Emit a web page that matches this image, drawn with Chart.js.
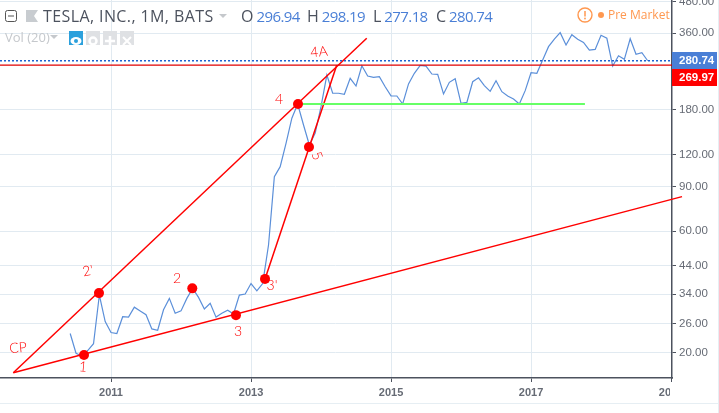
<!DOCTYPE html>
<html>
<head>
<meta charset="utf-8">
<script src="https://cdn.jsdelivr.net/npm/chart.js@4"></script>
<style>
html, body { margin: 0; padding: 0; background: #fff; overflow: hidden; }
#wrap { position: relative; width: 719px; height: 413px; font-family: 'Open Sans', sans-serif; }
#chart { position: absolute; left: 0; top: 0; }
.abs { position: absolute; white-space: nowrap; }
.title { top: 5px; font-size: 16px; line-height: 22px; color: #4c525e; }
.val { color: #4a7fd6; font-size: 15px; letter-spacing: -0.6px; margin-left: 3px; }
.caret { width: 0; height: 0; border-left: 4px solid transparent; border-right: 4px solid transparent; border-top: 4px solid #c5c8cc; }
.btn { top: 31px; width: 14px; height: 14px; background: #dfe1e4; }
.edge { background: #e6eef3; }
</style>
</head>
<body>
<div id="wrap">
  <canvas id="chart" width="719" height="413"></canvas>

  <!-- legend header -->
  <svg class="abs" style="left:5px;top:10px" width="34" height="13">
    <rect x="0.5" y="0.5" width="11" height="11" rx="2" fill="#fff" stroke="#555"/>
    <line x1="3" y1="6" x2="9" y2="6" stroke="#555"/>
    <path d="M21 0H33L29 6L33 12H21Z" fill="#c8ccd0"/>
  </svg>
  <div class="abs title" style="left:43px;letter-spacing:0.4px">TESLA, INC., 1M, BATS</div>
  <div class="abs caret" style="left:219px;top:14px"></div>
  <div class="abs title" style="left:241px">O<span class="val">296.94</span></div>
  <div class="abs title" style="left:307px">H<span class="val">298.19</span></div>
  <div class="abs title" style="left:373px">L<span class="val">277.18</span></div>
  <div class="abs title" style="left:436px">C<span class="val">280.74</span></div>

  <div class="abs" style="left:5px;top:28px;font-size:13px;line-height:18px;color:#c5c8cc">Vol (20)</div>
  <div class="abs caret" style="left:50px;top:35px"></div>
  <div class="abs btn" style="left:69px;background:#2ba0dc">
    <svg width="14" height="14"><ellipse cx="7" cy="7" rx="5.5" ry="4" fill="#fff"/><circle cx="7" cy="7" r="2" fill="#2ba0dc"/></svg>
  </div>
  <div class="abs btn" style="left:86px">
    <svg width="14" height="14"><circle cx="7" cy="7" r="3.5" fill="none" stroke="#fff" stroke-width="2.5"/></svg>
  </div>
  <div class="abs btn" style="left:103px">
    <svg width="14" height="14"><path d="M7 2V12M2 7H12" stroke="#fff" stroke-width="2.5"/></svg>
  </div>
  <div class="abs btn" style="left:120px">
    <svg width="14" height="14"><path d="M3 3L11 11M11 3L3 11" stroke="#fff" stroke-width="2"/></svg>
  </div>

  <!-- pre market badge -->
  <svg class="abs" style="left:577px;top:7px" width="30" height="16">
    <circle cx="8" cy="8" r="7" fill="none" stroke="#ff9850" stroke-width="1.4"/>
    <line x1="8" y1="4" x2="8" y2="9.5" stroke="#ff9850" stroke-width="1.5"/>
    <circle cx="8" cy="11.5" r="0.9" fill="#ff9850"/>
    <circle cx="24" cy="8" r="3" fill="#ff9850"/>
  </svg>
  <div class="abs" style="left:608px;top:6px;font-size:12px;line-height:18px;color:#ff9850">Pre Market</div>

  <!-- pane edges -->
  <div class="abs edge" style="left:0;top:403px;width:718px;height:1px"></div>
  <div class="abs edge" style="left:718px;top:0;width:1px;height:413px"></div>
</div>

<script>
// ===== DATA =====
const months = [
    '2010-06', '2010-07', '2010-08', '2010-09', '2010-10', '2010-11', '2010-12',
    '2011-01', '2011-02', '2011-03', '2011-04', '2011-05', '2011-06', '2011-07', '2011-08', '2011-09', '2011-10', '2011-11', '2011-12',
    '2012-01', '2012-02', '2012-03', '2012-04', '2012-05', '2012-06', '2012-07', '2012-08', '2012-09', '2012-10', '2012-11', '2012-12',
    '2013-01', '2013-02', '2013-03', '2013-04', '2013-05', '2013-06', '2013-07', '2013-08', '2013-09', '2013-10', '2013-11', '2013-12',
    '2014-01', '2014-02', '2014-03', '2014-04', '2014-05', '2014-06', '2014-07', '2014-08', '2014-09', '2014-10', '2014-11', '2014-12',
    '2015-01', '2015-02', '2015-03', '2015-04', '2015-05', '2015-06', '2015-07', '2015-08', '2015-09', '2015-10', '2015-11', '2015-12',
    '2016-01', '2016-02', '2016-03', '2016-04', '2016-05', '2016-06', '2016-07', '2016-08', '2016-09', '2016-10', '2016-11', '2016-12',
    '2017-01', '2017-02', '2017-03', '2017-04', '2017-05', '2017-06', '2017-07', '2017-08', '2017-09', '2017-10', '2017-11', '2017-12',
    '2018-01', '2018-02', '2018-03', '2018-04', '2018-05', '2018-06', '2018-07', '2018-08', '2018-09'
];
const closes = [
    23.8, 19.9, 19.4, 20.4, 21.7, 33.7, 26.5,
    24.0, 23.8, 27.7, 27.6, 30.2, 29.2, 28.2, 24.8, 24.5, 29.5, 32.7, 28.6,
    29.2, 32.7, 35.8, 33.0, 29.7, 31.3, 27.6, 28.6, 29.4, 28.4, 33.7, 34.0,
    37.4, 35.0, 37.4, 53.0, 98.4, 107.7, 133, 167, 189.8, 157, 131, 146,
    185.3, 246.7, 209.2, 209.2, 207.3, 239.5, 223.4, 268.2, 244.5, 241.6, 243, 222,
    204.2, 204.1, 189.8, 227.6, 250.6, 269.2, 267.5, 249, 248.2, 207.9, 231, 238.5,
    190.9, 192.6, 232.2, 240.6, 224.2, 212.9, 234.3, 212.2, 204.2, 198.6, 189.8, 214.2,
    251.9, 250.6, 282.5, 318.9, 341.8, 362, 323.8, 355.5, 341, 331.6, 309.3, 311.2,
    353.6, 344.1, 267.5, 293.7, 284.3, 342.7, 297.6, 301.9, 280.74
];
const priceTicks = [20, 26, 34, 44, 60, 90, 120, 180, 360, 480];
const yearTicks = [2011, 2013, 2015, 2017, 2019];

const lastPrice = 280.74;
const linePrice = 269.97;

// hand drawn pivots, [year, price]
const pivots = [
    [2010.614, 19.6], [2010.828, 34.3], [2012.161, 35.8], [2012.785, 28.1],
    [2013.2, 39.0], [2013.671, 189.9], [2013.828, 128.7]
];
// hand drawn lines, [year, price] pairs
const upperTrend = [[2009.604, 16.69], [2014.653, 344.1]];
const lowerTrend = [[2009.604, 16.69], [2019.157, 82.1]];
const steepTrend = [[2013.2, 39.0], [2014.224, 269.5]];
const supportLine = [[2013.671, 189.9], [2017.77, 189.9]];

const yearMin = 2009.414;
const yearMax = 2019.014;
const priceMin = 15.91;
const priceMax = 486.5;

const gridColor = '#e1eaf1';
const axisColor = '#4c525e';
const labelColor = '#666b75';
const lineBlue = '#5b8fd9';
const red = '#ff0000';

const toPoints = (pairs) => pairs.map(([x, y]) => ({ x, y }));

function monthToYear(month) {
    const [y, m] = month.split('-').map(Number);
    return y + (m - 1) / 12;
}

function trendDataset(pairs, color, extra) {
    return Object.assign({
        data: toPoints(pairs),
        borderColor: color,
        borderWidth: 1.5,
        pointRadius: 0,
        tension: 0,
        order: 2
    }, extra);
}

// handwritten notes, price tags and the cut off last year label
const overlayPlugin = {
    id: 'overlay',
    afterDraw(chart) {
        const ctx = chart.ctx;
        const yScale = chart.scales.y;
        const right = chart.chartArea.right;

        ctx.save();
        ctx.fillStyle = '#fff';
        ctx.fillRect(670, 384, 48, 18);

        const lastY = yScale.getPixelForValue(lastPrice);
        const tags = [
            { text: lastPrice.toFixed(2), color: '#4a7fd6', top: Math.round(lastY) - 9 },
            { text: linePrice.toFixed(2), color: red, top: Math.round(lastY) + 8 }
        ];
        ctx.font = "bold 11.5px 'Liberation Sans', sans-serif";
        ctx.textBaseline = 'middle';
        ctx.textAlign = 'left';
        tags.forEach((tag) => {
            ctx.fillStyle = tag.color;
            ctx.fillRect(right, tag.top, 45, 17);
            ctx.fillStyle = '#fff';
            ctx.fillText(tag.text, right + 7, tag.top + 9);
        });

        const notes = [
            { text: 'CP', x: 18, y: 348, rot: -0.1 },
            { text: '1', x: 83, y: 367, rot: 0.1 },
            { text: "2'", x: 88, y: 271, rot: -0.2 },
            { text: '2', x: 177, y: 278, rot: 0 },
            { text: '3', x: 238, y: 331, rot: 0 },
            { text: "3'", x: 272, y: 285, rot: 0 },
            { text: '4', x: 279, y: 99, rot: 0 },
            { text: '5', x: 317, y: 156, rot: 1.2 },
            { text: '4A', x: 319, y: 52, rot: -0.1 }
        ];
        ctx.font = "300 14px 'Lato', sans-serif";
        ctx.fillStyle = red;
        ctx.textAlign = 'center';
        notes.forEach((note) => {
            ctx.save();
            ctx.translate(note.x, note.y);
            ctx.rotate(note.rot);
            ctx.fillText(note.text, 0, 0);
            ctx.restore();
        });
        ctx.restore();
    }
};

new Chart(document.getElementById('chart'), {
    type: 'line',
    data: {
        datasets: [
            {
                data: months.map((month, i) => ({ x: monthToYear(month), y: closes[i] })),
                borderColor: lineBlue,
                borderWidth: 1.2,
                pointRadius: 0,
                tension: 0,
                order: 3
            },
            trendDataset(supportLine, '#66ff66', { borderWidth: 2 }),
            trendDataset([[yearMin, lastPrice], [yearMax, lastPrice]], '#1f63d0', { borderWidth: 1.3, borderDash: [2, 2] }),
            trendDataset([[yearMin, linePrice], [yearMax, linePrice]], '#e00000', { borderWidth: 1.2 }),
            trendDataset(upperTrend, red),
            trendDataset(lowerTrend, red, { clip: false }),
            trendDataset(steepTrend, red),
            {
                data: toPoints(pivots),
                showLine: false,
                pointRadius: 5,
                pointBackgroundColor: red,
                pointBorderColor: red,
                pointBorderWidth: 0,
                order: 1
            }
        ]
    },
    options: {
        responsive: false,
        animation: false,
        parsing: { xAxisKey: 'x', yAxisKey: 'y' },
        layout: { padding: 0, autoPadding: false },
        plugins: { legend: { display: false }, tooltip: { enabled: false } },
        scales: {
            x: {
                type: 'linear',
                min: yearMin,
                max: yearMax,
                afterBuildTicks: (scale) => { scale.ticks = yearTicks.map((value) => ({ value })); },
                afterFit: (scale) => { scale.height = 35; scale.paddingLeft = 0; scale.paddingRight = 0; },
                border: { color: axisColor, width: 1.5 },
                grid: { color: gridColor, tickColor: axisColor, tickLength: 4 },
                ticks: {
                    autoSkip: false,
                    maxRotation: 0,
                    padding: 4,
                    color: labelColor,
                    font: { family: "'Liberation Sans', sans-serif", size: 11, weight: 'bold' },
                    callback: (value) => String(value)
                }
            },
            y: {
                type: 'logarithmic',
                position: 'right',
                min: priceMin,
                max: priceMax,
                afterBuildTicks: (scale) => { scale.ticks = priceTicks.map((value) => ({ value })); },
                afterFit: (scale) => { scale.width = 47; scale.paddingTop = 0; scale.paddingBottom = 0; },
                border: { color: axisColor, width: 1.5 },
                grid: { color: gridColor, tickColor: axisColor, tickLength: 4 },
                ticks: {
                    autoSkip: false,
                    padding: 3,
                    color: labelColor,
                    font: { family: "'Liberation Sans', sans-serif", size: 11.5 },
                    callback: (value) => Number(value).toFixed(2)
                }
            }
        }
    },
    plugins: [overlayPlugin]
});
</script>
</body>
</html>
